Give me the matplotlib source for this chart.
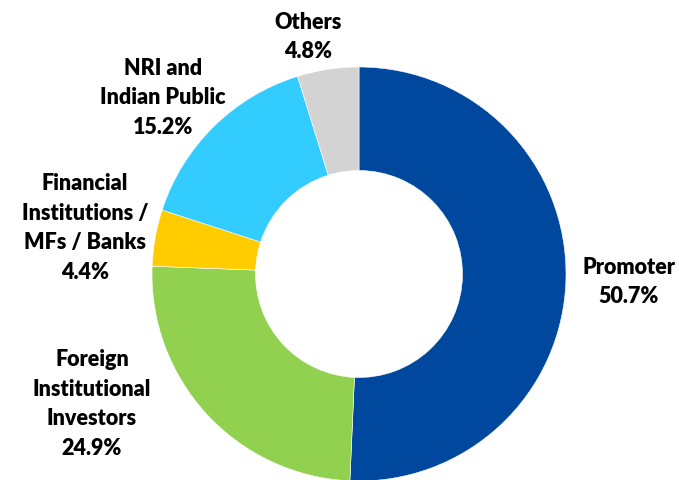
import matplotlib.pyplot as plt

# shareholding data
labels = ['Promoter', 'Foreign\nInstitutional\nInvestors', 'Financial\nInstitutions /\nMFs / Banks',
          'NRI and\nIndian Public', 'Others']
shares = [50.7, 24.9, 4.4, 15.2, 4.8]
colors = ['#00479E', '#92D050', '#FFCC00', '#33CCFF', '#D3D3D3']

# label anchor (pixel coords from top-left, centre of text block)
label_pos = [(629, 282), (92, 404), (85, 228), (163, 98), (308, 37)]

W, H = 679, 481
fig = plt.figure(figsize=(W / 100, H / 100), dpi=100)
ax = fig.add_axes([0, 0, 1, 1])
ax.set_xlim(0, W)
ax.set_ylim(0, H)

cx, cy, R = 359, H - 275, 207
ax.pie(shares, colors=colors, startangle=90, counterclock=False,
       center=(cx, cy), radius=R, frame=True,
       wedgeprops=dict(width=R * 0.5, edgecolor='white', linewidth=0.4))
ax.set_xlim(0, W)
ax.set_ylim(0, H)
ax.set_aspect('equal')
ax.axis('off')

for lab, val, (x, y) in zip(labels, shares, label_pos):
    ax.text(x, H - y, lab + '\n' + f'{val:.1f}%', ha='center', va='center',
            fontsize=15.5, fontweight='heavy', family='Lato', linespacing=1.5,
            color='#000000')

fig.savefig('out.png', dpi=100)
